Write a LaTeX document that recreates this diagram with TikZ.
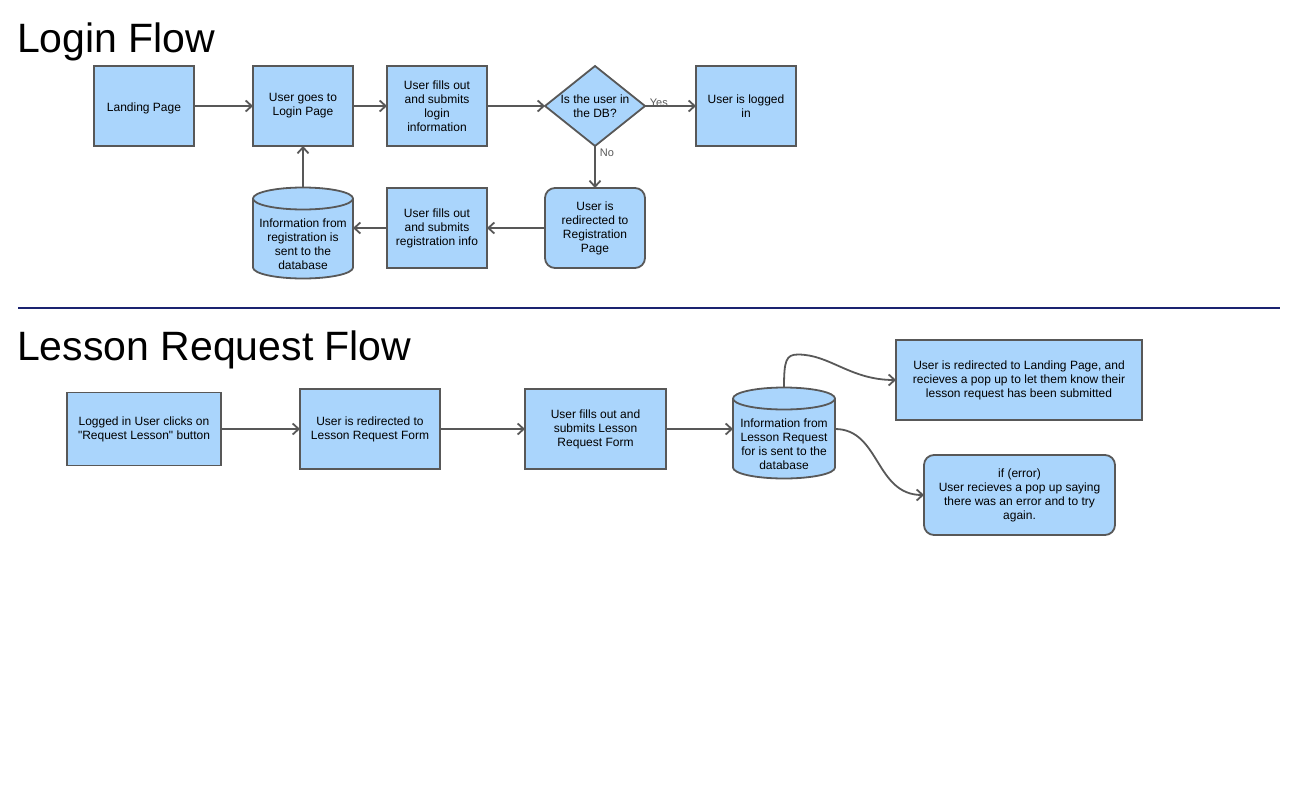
\documentclass[tikz,border=0pt]{standalone}
\usepackage{fontspec}
\setmainfont{Liberation Sans}[Ligatures=TeXOff]
\usetikzlibrary{arrows.meta,shapes.geometric}
\usetikzlibrary{positioning,backgrounds}

\definecolor{boxfill}{RGB}{170,213,252}
\definecolor{boxline}{RGB}{88,88,88}
\definecolor{rulenavy}{RGB}{26,35,112}

% database drawn round a named body node: #1 node, #2 half width
\newcommand{\dbcyl}[2]{%
\filldraw [draw=boxline, fill=boxfill, line width=1.8pt]([yshift=11pt]#1.north west) -- ([yshift=11pt]#1.south west)
  arc[start angle=180, end angle=360, x radius=#2, y radius=11pt] -- ([yshift=11pt]#1.north east)
  arc[start angle=0, end angle=180, x radius=#2, y radius=11pt] -- cycle;
\draw [draw=boxline, line width=1.8pt]([yshift=11pt]#1.north west)
  arc[start angle=180, end angle=360, x radius=#2, y radius=11pt];}

\begin{document}
\begin{tikzpicture}[x=1pt,y=-1pt,
	boxtext/.style={align=center, font=\fontsize{12}{14}\selectfont, execute at begin node={\rule{0pt}{13pt}}},
	flowbox/.style={boxtext, draw=boxline, fill=boxfill, line width=1.8pt, minimum width=100pt, minimum height=80pt,
		inner sep=2pt, outer sep=0pt},
	roundbox/.style={flowbox, rounded corners=10pt},
	decision/.style={flowbox, diamond, aspect=1.25, inner sep=0pt},
	dbbody/.style={boxtext, minimum width=100pt, minimum height=69pt, inner sep=0pt, outer sep=0pt},
	flowline/.style={draw=boxline, line width=1.8pt, -{Straight Barb[length=6pt,width=11pt]}},
	edgelabel/.style={text=boxline, inner sep=0pt, font=\fontsize{11}{13}\selectfont},
	heading/.style={anchor=base west, inner sep=0pt, font=\fontsize{41}{48}\selectfont}]
\useasboundingbox (0,0) rectangle (1311,806);

%login flow
\node [heading](logintitle) at (17,52){Login Flow};
\node [flowbox](land) at (144,106){Landing Page};
\node [flowbox, right=59pt of land](login){User goes to\\Login Page};
\node [flowbox, right=34pt of login](fillin){User fills out\\and submits\\login\\information};
\node [decision, right=58pt of fillin](indb){Is the user in\\the DB?};
\node [flowbox, right=51pt of indb](logged){User is logged\\in};
\node [roundbox, below=42pt of indb](redir){User is\\redirected to\\Registration\\Page};
\node [flowbox, left=58pt of redir](fillreg){User fills out\\and submits\\registration info};
\node [dbbody](db1) at (303,244){Information from\\registration is\\sent to the\\database};
\coordinate (db1top) at ([yshift=22pt]db1.north);

\draw [flowline](land) -- (login);
\draw [flowline](login) -- (fillin);
\draw [flowline](fillin) -- (indb);
\draw [flowline](indb) -- node[edgelabel, pos=0.27, anchor=base]{Yes} (logged);
\draw [flowline](indb) -- node[edgelabel, at start, anchor=north west, xshift=4pt, yshift=-2pt]{No} (redir);
\draw [flowline](redir) -- (fillreg);
\draw [flowline](fillreg.west) -- (fillreg.west -| db1.east);
\draw [flowline](db1top) -- (db1top |- login.south);

\draw [rulenavy, line width=2pt](18,308) -- (1280,308);

%lesson request flow
\node [heading](lessontitle) at (17,360){Lesson Request Flow};
\node [flowbox, minimum width=154pt, minimum height=73pt](click) at (144,429){Logged in User clicks on\\"Request Lesson" button};
\node [flowbox, minimum width=140pt, right=79pt of click](reqform){User is redirected to\\Lesson Request Form};
\node [flowbox, minimum width=141pt, right=85pt of reqform](fillform){User fills out and\\submits Lesson\\Request Form};
\node [dbbody, minimum width=102pt](db2) at (784,444){Information from\\Lesson Request\\for is sent to the\\database};
\node [flowbox, minimum width=246pt](done) at (1019,380){User is redirected to Landing Page, and\\recieves a pop up to let them know their\\lesson request has been submitted};
\node [roundbox, minimum width=191pt](err) at (1019.5,495){if (error)\\User recieves a pop up saying\\there was an error and to try\\again.};
\coordinate (db2top) at ([yshift=22pt]db2.north);
\coordinate (peak) at ([xshift=14pt,yshift=33pt]db2top);

\draw [flowline](click) -- (reqform);
\draw [flowline](reqform) -- (fillform);
\draw [flowline](fillform.east) -- (fillform.east -| db2.west);
\draw [flowline](db2top) .. controls +(0,-27) and +(-12,0) .. (peak) .. controls +(32,0) and +(-46,0) .. (done.west);
\draw [flowline](db2.east |- fillform.east) .. controls +(45,0) and +(-49,0) .. (err.west);

\begin{scope}[on background layer]
\dbcyl{db1}{50pt}
\dbcyl{db2}{51pt}
\end{scope}

\end{tikzpicture}
\end{document}
